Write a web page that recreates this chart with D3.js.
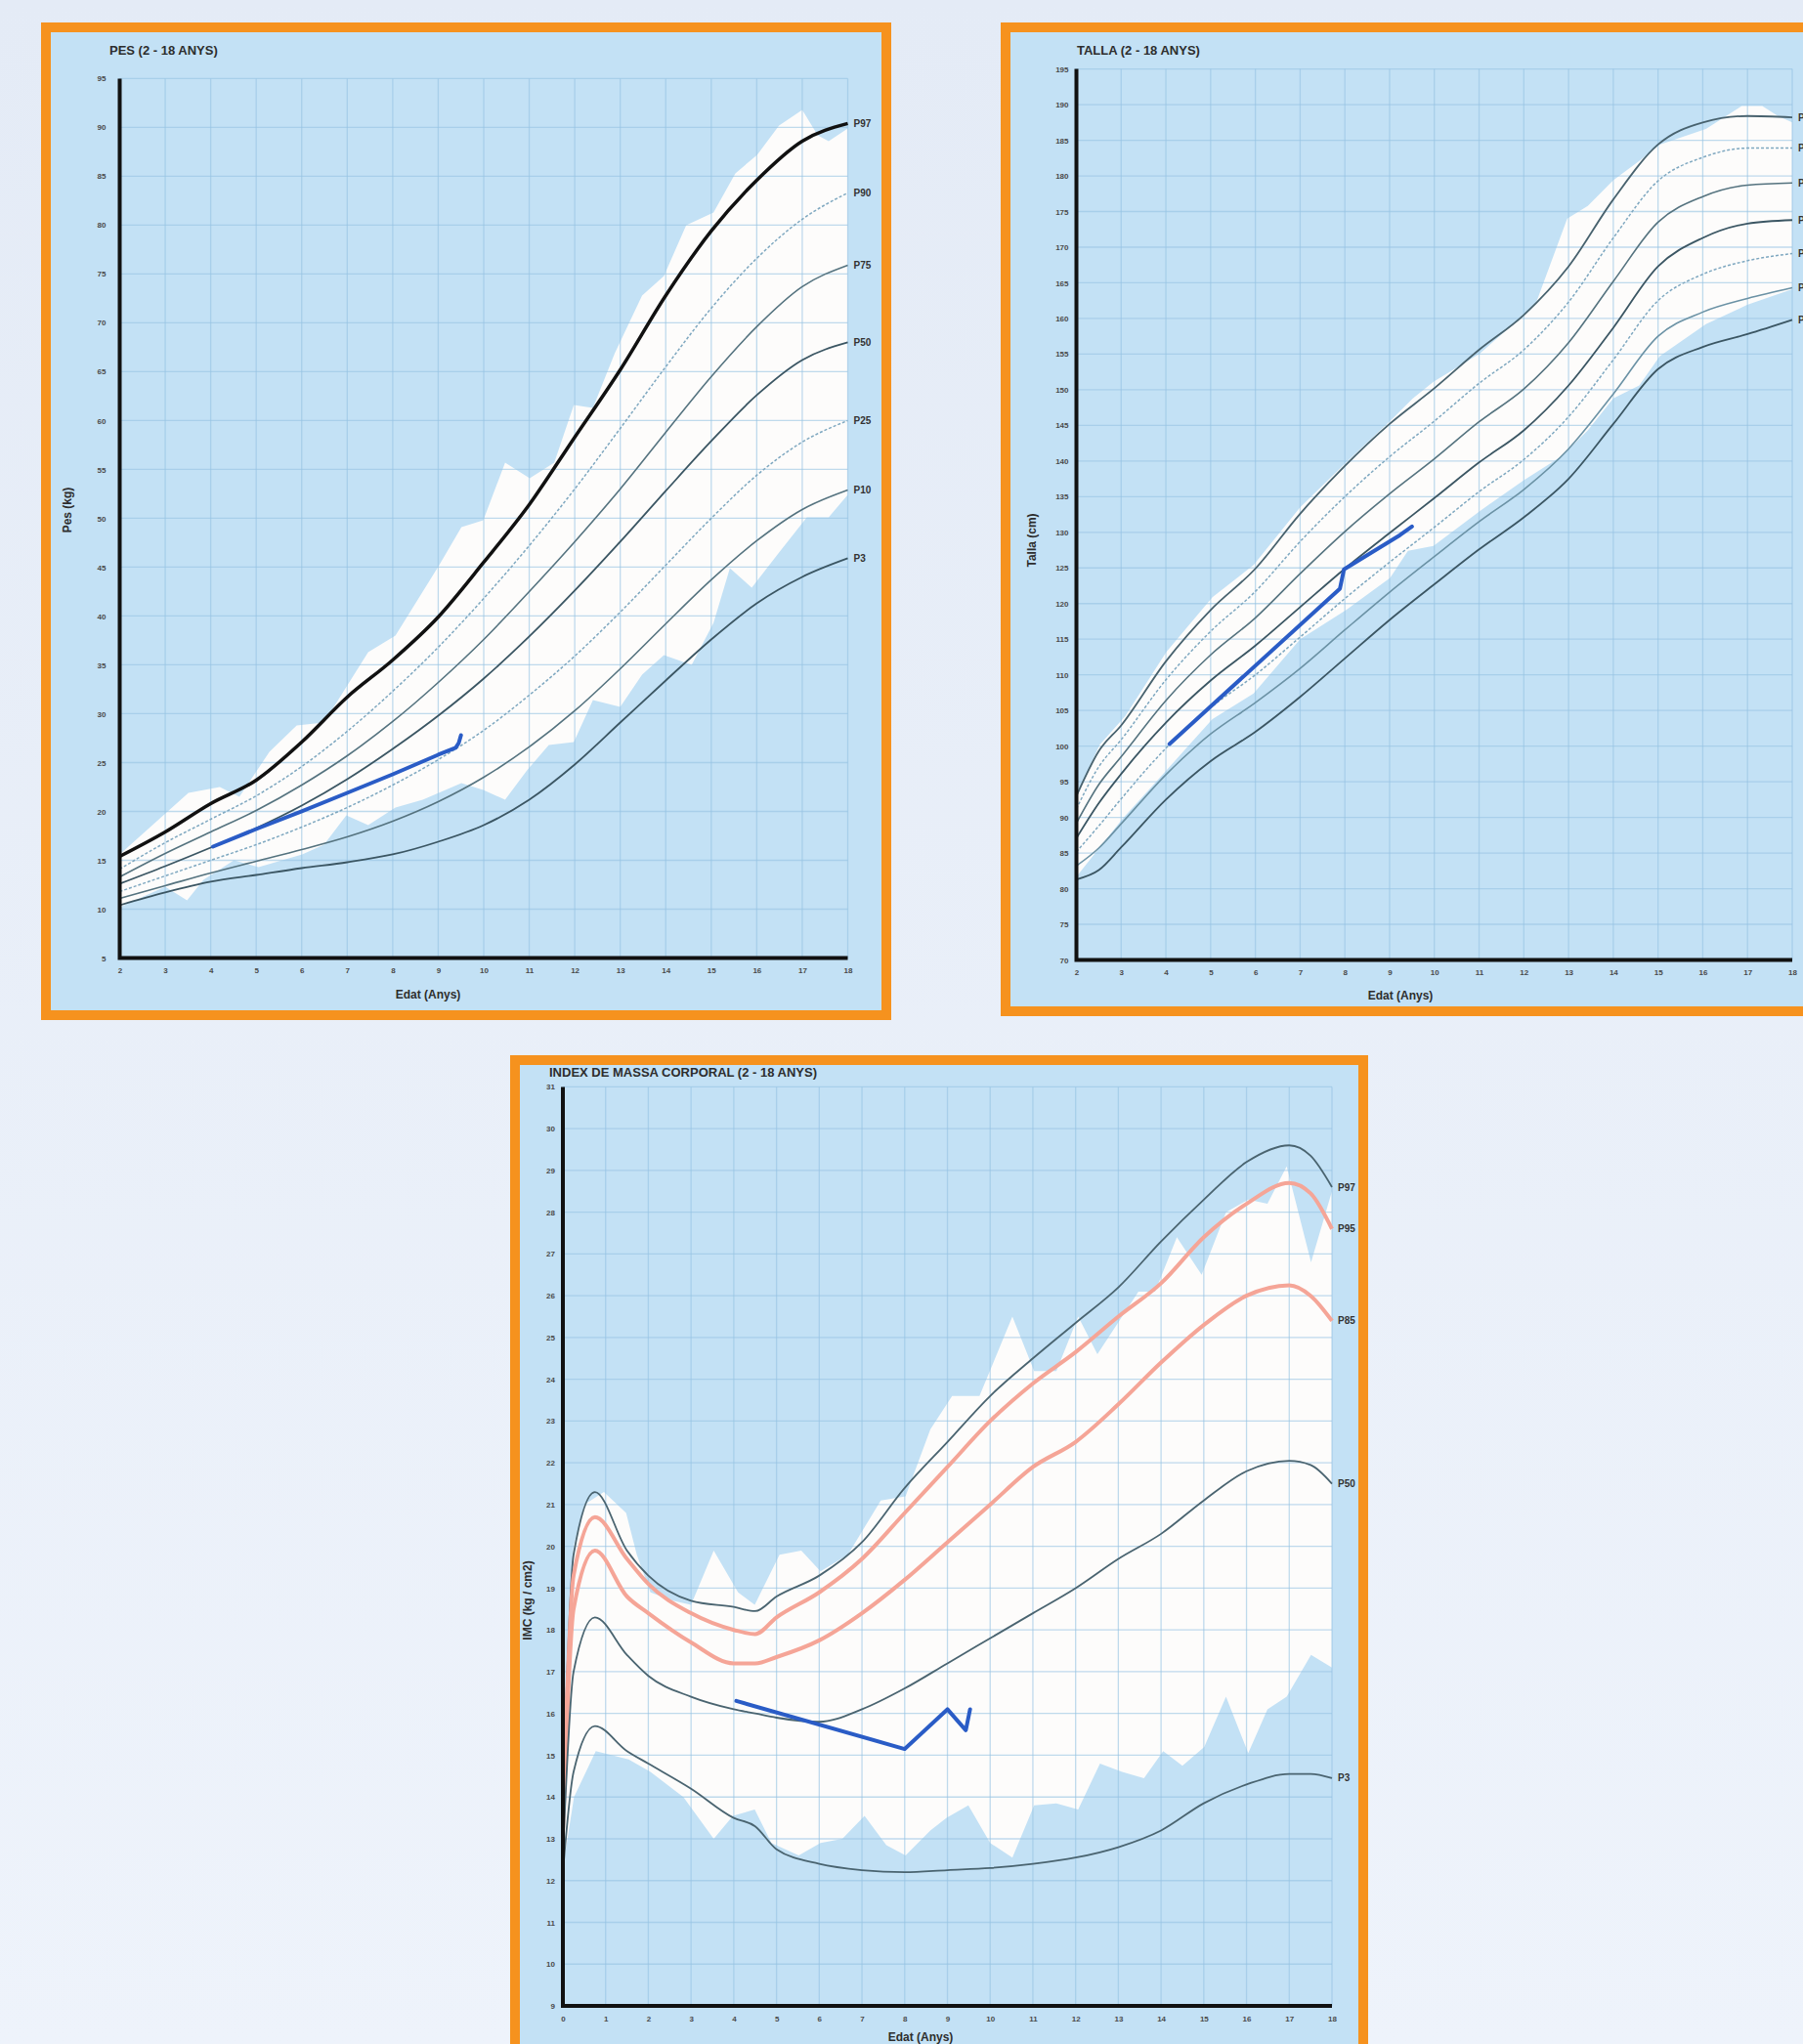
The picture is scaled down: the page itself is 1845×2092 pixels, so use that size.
<!DOCTYPE html>
<html>
<head>
<meta charset="utf-8">
<script src="https://cdn.jsdelivr.net/npm/d3@7"></script>
<style>
body { margin: 0; background: #e9f0fa; }
svg { display: block; font-family: "Liberation Sans", Arial, sans-serif; }
</style>
</head>
<body>
<script>
// ---------- PES (weight, kg) ----------
var pesAges = [2,3,4,5,6,7,8,9,10,11,12,13,14,15,16,17,18];
var pesP97 = [15.4,17.9,20.8,23.2,27.1,31.7,35.5,39.9,45.5,51.4,58.3,65.2,72.8,79.4,84.6,88.6,90.4];
var pesP90 = [14.1,16.8,19.2,21.6,24.6,28.2,32.3,36.8,41.8,47.2,53.0,59.2,65.5,71.5,76.6,80.6,83.3];
var pesP75 = [13.3,15.7,17.9,20.1,22.7,25.7,29.2,33.2,37.6,42.5,47.6,53.0,58.8,64.5,69.6,73.7,75.9];
var pesP50 = [12.6,14.4,16.3,18.3,20.6,23.3,26.4,29.8,33.6,37.9,42.6,47.6,52.8,57.9,62.6,66.2,68.0];
var pesP25 = [11.8,13.4,15.0,16.6,18.4,20.4,22.7,25.3,28.3,31.9,35.9,40.4,45.2,50.0,54.4,57.8,60.0];
var pesP10 = [11.1,12.4,13.7,14.9,16.1,17.4,19.0,21.0,23.5,26.6,30.3,34.6,39.2,43.7,47.7,50.9,52.9];
var pesP3  = [10.4,11.7,12.8,13.5,14.2,14.8,15.6,16.9,18.6,21.2,24.8,29.1,33.4,37.6,41.3,44.0,45.9];
// white band of observed values [age, kg]
var pesBandTop = [[2,15.6],[3.51,21.9],[4.2,22.5],[4.63,21.5],[5.29,26.1],[5.89,28.8],[6.49,29.1],[7.46,36.3],[8.06,38.0],[9.02,45.2],[9.51,49.1],[9.99,49.8],[10.47,55.7],[11.01,54.1],[11.55,55.7],[11.98,61.6],[12.4,61.3],[12.88,66.9],[13.48,72.8],[13.96,74.8],[14.45,80.0],[15.05,81.3],[15.53,85.3],[16.01,87.2],[16.49,90.2],[17.0,91.8],[17.34,89.2],[17.58,88.6],[18,89.9]];
var pesBandBottom = [[2,10.2],[3.0,12.3],[3.48,10.9],[3.84,13.0],[4.51,15.0],[5.05,14.3],[6.01,15.6],[6.49,16.6],[6.98,19.6],[7.46,18.6],[8.06,20.4],[8.66,21.2],[9.51,22.9],[9.99,22.2],[10.47,21.2],[10.95,24.2],[11.43,26.8],[11.98,27.1],[12.4,31.4],[13.0,30.7],[13.48,34.0],[13.96,36.0],[14.57,35.0],[15.05,39.3],[15.41,44.9],[15.89,42.9],[16.49,46.5],[17.1,50.1],[17.58,50.1],[18,52.4]];
var pesPatientAge = [4.05,5,6,7,8,9,9.38,9.45,9.5];
var pesPatientVal = [16.4,18.2,20.0,21.9,23.8,25.8,26.5,27.0,27.8];
var pesTicksY = d3.range(5, 96, 5);
var pesTicksX = d3.range(2, 19, 1);

// ---------- TALLA (height, cm) ----------
var tallaAges = [2,2.5,3,4,5,6,7,8,9,10,11,12,13,14,15,16,17,18];
var tallaP97 = [93.0,99.3,102.9,111.9,119.1,124.9,132.6,139.3,145.2,150.2,155.6,160.5,167.3,176.7,184.4,187.5,188.4,188.2];
var tallaP90 = [91.2,97.1,100.9,109.3,116.1,121.7,128.7,135.0,140.6,145.6,150.9,155.6,162.3,171.3,179.3,182.6,183.9,183.9];
var tallaP75 = [89.2,94.6,98.5,106.4,112.8,118.0,124.2,130.1,135.4,140.3,145.5,150.1,156.6,165.2,173.5,177.1,178.7,179.0];
var tallaP50 = [87.1,92.0,96.1,103.3,109.2,114.1,119.5,124.9,129.9,134.8,139.8,144.3,150.6,158.7,167.3,171.3,173.3,173.8];
var tallaP25 = [85.2,88.8,92.6,99.7,105.4,110.0,115.3,120.7,125.8,130.7,135.7,140.2,146.2,154.2,162.5,166.2,168.1,169.1];
var tallaP10 = [83.2,85.7,89.1,96.0,101.7,106.1,110.9,116.3,121.6,126.6,131.5,136.0,141.7,149.4,157.5,160.9,162.8,164.3];
var tallaP3  = [81.3,82.6,85.8,92.5,97.9,102.0,106.9,112.3,117.7,122.7,127.6,132.1,137.5,145.2,152.9,156.0,157.8,159.8];
var tallaBandTop = [[2,93.0],[2.52,100.2],[3.09,104.2],[4.01,113.2],[5.04,120.9],[5.96,125.4],[7.0,133.5],[8.03,139.8],[9.01,145.6],[9.52,148.8],[9.98,151.1],[11.02,155.1],[12.0,160.5],[12.28,162.3],[12.97,174.0],[13.43,175.8],[14.0,179.4],[14.58,182.1],[15.04,184.4],[16.07,186.6],[16.87,189.8],[17.33,189.8],[17.68,188.4],[18,187.5]];
var tallaBandBottom = [[2,81.7],[3.03,89.8],[4.01,96.6],[5.04,103.8],[5.96,107.4],[7.0,115.0],[8.03,119.1],[9.01,123.6],[9.41,127.4],[9.98,128.1],[11.02,133.0],[12.0,137.3],[12.85,140.7],[13.43,144.3],[14.0,148.8],[14.58,150.6],[15.04,154.7],[16.07,159.2],[16.99,161.9],[18,164.1]];
var tallaPatientAge = [4.08,7.89,7.98,9.23,9.5];
var tallaPatientVal = [100.3,122.1,124.8,129.6,130.8];
var tallaTicksY = d3.range(70, 196, 5);
var tallaTicksX = d3.range(2, 19, 1);

// ---------- IMC (BMI) ----------
var imcAges = [0,0.25,0.75,1.5,2,3,4,4.5,5,6,7,8,9,10,11,12,13,14,15,16,17,17.5,18];
var imcP97 = [14.0,19.8,21.3,19.9,19.3,18.7,18.55,18.45,18.8,19.3,20.1,21.4,22.5,23.6,24.5,25.35,26.2,27.3,28.3,29.2,29.6,29.35,28.6];
var imcP95 = [13.6,19.3,20.7,19.7,19.1,18.4,18.0,17.9,18.3,18.9,19.7,20.8,21.9,23.0,23.9,24.65,25.5,26.3,27.4,28.2,28.7,28.45,27.6];
var imcP85 = [13.2,18.5,19.9,18.8,18.4,17.7,17.2,17.2,17.35,17.75,18.4,19.2,20.1,21.0,21.9,22.5,23.4,24.4,25.3,26.0,26.25,26.0,25.4];
var imcP50 = [12.6,17.0,18.3,17.4,16.9,16.4,16.1,16.0,15.9,15.8,16.1,16.6,17.2,17.8,18.4,19.0,19.7,20.3,21.1,21.8,22.05,21.95,21.5];
var imcP3  = [12.2,14.6,15.7,15.1,14.8,14.2,13.5,13.3,12.75,12.4,12.25,12.2,12.25,12.3,12.4,12.55,12.8,13.2,13.85,14.3,14.55,14.55,14.45];
var imcBandTop = [[0,12.5],[0.1,17.5],[0.25,20.0],[0.5,21.0],[0.96,21.3],[1.48,20.8],[1.73,19.8],[2.05,18.9],[2.57,18.7],[3.0,18.6],[3.53,19.9],[4.1,18.9],[4.49,18.6],[5.07,19.8],[5.58,19.9],[6.03,19.4],[6.67,19.8],[7.44,21.1],[8.02,21.2],[8.6,22.8],[9.11,23.6],[9.75,23.6],[10.52,25.5],[11.03,24.2],[11.55,24.2],[12.06,25.5],[12.51,24.6],[12.96,25.3],[13.47,26.1],[13.86,26.1],[14.37,27.4],[14.95,26.5],[15.52,28.0],[16.04,28.3],[16.49,28.2],[16.94,29.1],[17.51,26.8],[18,28.5]];
var imcBandBottom = [[0,12.3],[0.26,14.0],[0.77,15.1],[1.54,14.9],[2.05,14.6],[2.82,14.0],[3.53,13.0],[3.98,13.55],[4.49,13.7],[4.88,12.9],[5.52,12.6],[6.03,12.9],[6.54,13.0],[7.06,13.55],[7.57,12.85],[8.02,12.6],[8.6,13.2],[8.98,13.5],[9.49,13.8],[10.0,12.9],[10.52,12.55],[11.03,13.8],[11.55,13.85],[12.06,13.7],[12.57,14.8],[13.09,14.6],[13.6,14.45],[14.05,15.1],[14.5,14.75],[15.01,15.2],[15.52,16.4],[16.04,15.05],[16.49,16.1],[16.94,16.4],[17.51,17.4],[18,17.1]];
var imcPatientAge = [4.06,8.0,9.0,9.43,9.53];
var imcPatientVal = [16.3,15.15,16.1,15.6,16.1];
var imcTicksY = d3.range(9, 32, 1);
var imcTicksX = d3.range(0, 19, 1);

var width = 1845;
var height = 2092;

var svg = d3.select("body")
            .append("svg")
            .attr("width", width)
            .attr("height", height);

// page background
var defs = svg.append("defs");
var bg = defs.append("linearGradient").attr("id", "bg")
             .attr("x1", 0).attr("y1", 0).attr("x2", 0).attr("y2", 1);
bg.append("stop").attr("offset", "0%").attr("stop-color", "#e4ebf6");
bg.append("stop").attr("offset", "100%").attr("stop-color", "#eef3fb");
svg.append("rect").attr("width", width).attr("height", height).attr("fill", "url(#bg)");

var darkLine = "#3b5663";
var midLine = "#55737f";
var dotLine = "#7fa8c0";
var salmon = "#f5a597";

function drawPanel(p) {
    var g = svg.append("g");

    // orange frame with light blue inside
    g.append("rect")
     .attr("x", p.frame[0] + 5).attr("y", p.frame[1] + 5)
     .attr("width", p.frame[2] - 10).attr("height", p.frame[3] - 10)
     .attr("fill", "#c3e1f5")
     .attr("stroke", "#f6921e")
     .attr("stroke-width", 10);

    defs.append("clipPath").attr("id", p.id + "-clip")
        .append("rect")
        .attr("x", p.frame[0] + 10).attr("y", p.frame[1] + 10)
        .attr("width", p.frame[2] - 20).attr("height", p.frame[3] - 20);

    var inner = g.append("g").attr("clip-path", "url(#" + p.id + "-clip)");

    var x = d3.scaleLinear().domain(p.xDomain).range(p.xRange);
    var y = d3.scaleLinear().domain(p.yDomain).range(p.yRange);

    // white band
    var band = p.bandTop.concat(p.bandBottom.slice().reverse());
    inner.append("path")
         .attr("d", d3.line().x(function (d) { return x(d[0]); })
                             .y(function (d) { return y(d[1]); })(band) + "Z")
         .attr("fill", "#fdfcfb");

    // grid
    var grid = inner.append("g")
                    .attr("stroke", "#96c3e3")
                    .attr("stroke-opacity", 0.6)
                    .attr("stroke-width", 1.3);
    grid.selectAll(".gx")
        .data(p.ticksX)
        .enter()
        .append("line")
        .attr("x1", function (d) { return x(d); })
        .attr("x2", function (d) { return x(d); })
        .attr("y1", y(p.yDomain[1]))
        .attr("y2", y(p.yDomain[0]));
    grid.selectAll(".gy")
        .data(p.ticksY)
        .enter()
        .append("line")
        .attr("x1", x(p.xDomain[0]))
        .attr("x2", x(p.xDomain[1]))
        .attr("y1", function (d) { return y(d); })
        .attr("y2", function (d) { return y(d); });

    // percentile curves
    var curve = d3.line()
                  .curve(d3.curveMonotoneX)
                  .x(function (d) { return x(d[0]); })
                  .y(function (d) { return y(d[1]); });
    p.curves.forEach(function (c) {
        inner.append("path")
             .datum(d3.zip(p.ages, c.values))
             .attr("d", curve)
             .attr("fill", "none")
             .attr("stroke", c.color)
             .attr("stroke-width", c.width)
             .attr("stroke-dasharray", c.dash || null)
             .attr("stroke-linejoin", "round");
        inner.append("text")
             .attr("x", x(p.xDomain[1]) + 6)
             .attr("y", y(c.values[c.values.length - 1]))
             .attr("dy", "0.35em")
             .attr("font-size", 10)
             .attr("font-weight", "bold")
             .attr("fill", "#333")
             .text(c.name);
    });

    // patient
    inner.append("path")
         .datum(d3.zip(p.patientAge, p.patientVal))
         .attr("d", d3.line().x(function (d) { return x(d[0]); })
                             .y(function (d) { return y(d[1]); }))
         .attr("fill", "none")
         .attr("stroke", "#2a5cc6")
         .attr("stroke-width", 4)
         .attr("stroke-linejoin", "round")
         .attr("stroke-linecap", "round");

    // tick labels
    var ay = inner.append("g")
                  .attr("transform", "translate(" + x(p.xDomain[0]) + ",0)")
                  .call(d3.axisLeft(y).tickValues(p.ticksY).tickSize(0).tickPadding(p.padY));
    var ax = inner.append("g")
                  .attr("transform", "translate(0," + y(p.yDomain[0]) + ")")
                  .call(d3.axisBottom(x).tickValues(p.ticksX).tickSize(0).tickPadding(10));
    [ax, ay].forEach(function (a) {
        a.select(".domain").remove();
        a.selectAll("text")
         .attr("font-size", 8)
         .attr("font-weight", "bold")
         .attr("font-family", "'Liberation Sans', Arial, sans-serif")
         .attr("fill", "#4a4a4a");
    });

    // thick axis lines
    inner.append("path")
         .attr("d", "M" + x(p.xDomain[0]) + "," + y(p.yDomain[1]) +
                    "V" + y(p.yDomain[0]) + "H" + x(p.xDomain[1]))
         .attr("fill", "none")
         .attr("stroke", "#111")
         .attr("stroke-width", 4);

    // titles
    inner.append("text")
         .attr("x", p.title[1]).attr("y", p.title[2])
         .attr("font-size", 13).attr("font-weight", "bold").attr("fill", "#2d2d2d")
         .text(p.title[0]);
    inner.append("text")
         .attr("x", p.xTitle[1]).attr("y", p.xTitle[2])
         .attr("text-anchor", "middle")
         .attr("font-size", 12).attr("font-weight", "bold").attr("fill", "#2d2d2d")
         .text(p.xTitle[0]);
    inner.append("text")
         .attr("transform", "translate(" + p.yTitle[1] + "," + p.yTitle[2] + ") rotate(-90)")
         .attr("text-anchor", "middle")
         .attr("font-size", 12).attr("font-weight", "bold").attr("fill", "#2d2d2d")
         .text(p.yTitle[0]);
}

drawPanel({
    id: "pes",
    frame: [42, 23, 870, 1021],
    xDomain: [2, 18], xRange: [122.5, 867.5],
    yDomain: [5, 95], yRange: [980.5, 80.4],
    ticksX: pesTicksX, ticksY: pesTicksY, padY: 14,
    ages: pesAges,
    curves: [
        {name: "P97", values: pesP97, color: "#111", width: 3.5},
        {name: "P90", values: pesP90, color: dotLine, width: 1.5, dash: "3,2"},
        {name: "P75", values: pesP75, color: midLine, width: 1.6},
        {name: "P50", values: pesP50, color: darkLine, width: 1.8},
        {name: "P25", values: pesP25, color: dotLine, width: 1.5, dash: "3,2"},
        {name: "P10", values: pesP10, color: midLine, width: 1.6},
        {name: "P3", values: pesP3, color: darkLine, width: 1.8}
    ],
    bandTop: pesBandTop, bandBottom: pesBandBottom,
    patientAge: pesPatientAge, patientVal: pesPatientVal,
    title: ["PES (2 - 18 ANYS)", 112, 56],
    xTitle: ["Edat (Anys)", 438, 1022],
    yTitle: ["Pes (kg)", 73, 522]
});

drawPanel({
    id: "talla",
    frame: [1024, 23, 900, 1017],
    xDomain: [2, 18], xRange: [1101.5, 1834],
    yDomain: [70, 195], yRange: [982.5, 70.6],
    ticksX: tallaTicksX, ticksY: tallaTicksY, padY: 8,
    ages: tallaAges,
    curves: [
        {name: "P97", values: tallaP97, color: "#48626e", width: 1.8},
        {name: "P90", values: tallaP90, color: dotLine, width: 1.5, dash: "3,2"},
        {name: "P75", values: tallaP75, color: midLine, width: 1.6},
        {name: "P50", values: tallaP50, color: darkLine, width: 1.8},
        {name: "P25", values: tallaP25, color: dotLine, width: 1.5, dash: "3,2"},
        {name: "P10", values: tallaP10, color: "#6b92a5", width: 1.6},
        {name: "P3", values: tallaP3, color: darkLine, width: 1.8}
    ],
    bandTop: tallaBandTop, bandBottom: tallaBandBottom,
    patientAge: tallaPatientAge, patientVal: tallaPatientVal,
    title: ["TALLA (2 - 18 ANYS)", 1102, 56],
    xTitle: ["Edat (Anys)", 1433, 1023],
    yTitle: ["Talla (cm)", 1060, 553]
});

drawPanel({
    id: "imc",
    frame: [522, 1080, 878, 1100],
    xDomain: [0, 18], xRange: [576, 1363],
    yDomain: [9, 31], yRange: [2053, 1112.4],
    ticksX: imcTicksX, ticksY: imcTicksY, padY: 8,
    ages: imcAges,
    curves: [
        {name: "P97", values: imcP97, color: "#4a6470", width: 1.8},
        {name: "P95", values: imcP95, color: salmon, width: 4},
        {name: "P85", values: imcP85, color: salmon, width: 4},
        {name: "P50", values: imcP50, color: "#4a6470", width: 1.8},
        {name: "P3", values: imcP3, color: "#4a6470", width: 1.8}
    ],
    bandTop: imcBandTop, bandBottom: imcBandBottom,
    patientAge: imcPatientAge, patientVal: imcPatientVal,
    title: ["INDEX DE MASSA CORPORAL (2 - 18 ANYS)", 562, 1102],
    xTitle: ["Edat (Anys)", 942, 2089],
    yTitle: ["IMC (kg / cm2)", 544, 1638]
});
</script>
</body>
</html>
